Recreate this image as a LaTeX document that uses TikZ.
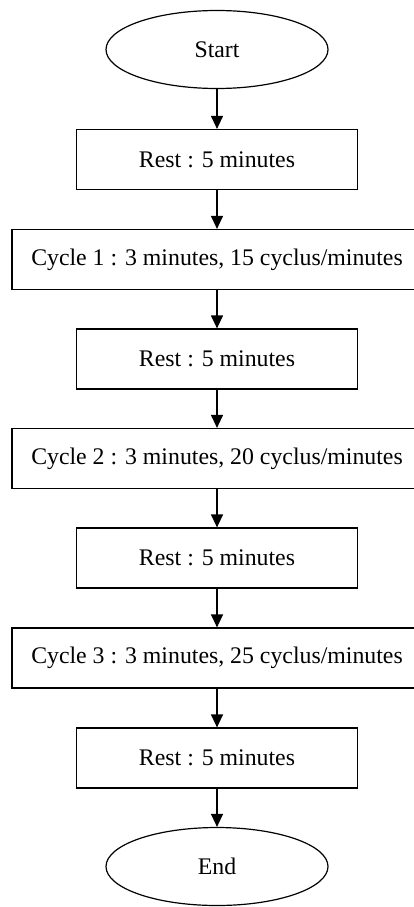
\documentclass[tikz,border=0pt]{standalone}
\usepackage{fontspec}
\setmainfont{Liberation Serif}
\usetikzlibrary{shapes.geometric,arrows.meta}
\begin{document}
\begin{tikzpicture}[x=1pt,y=1pt,
  txt/.style={font=\fontsize{23.8}{28}\selectfont},
  flowbox/.style={txt,draw=black,line width=1.2pt,rectangle,minimum width=281pt,minimum height=60pt,inner sep=0pt},
  cyclebox/.style={flowbox,minimum width=410pt},
  term/.style={txt,draw=black,line width=1.2pt,ellipse,minimum width=222pt,minimum height=78pt,inner sep=0pt},
  flow/.style={-{Triangle[width=12pt,length=13pt]},line width=1.2pt}]
\useasboundingbox (0,0) rectangle (414,-907);
\clip (0,0) rectangle (414,-907);
\node[term] (start) at (217,-49.5) {Start};
\node[flowbox] (r1) at (217,-159.5) {Rest : 5 minutes};
\node[cyclebox] (c1) at (217,-259.5) {Cycle 1 : 3 minutes, 15 cyclus/minutes};
\node[flowbox] (r2) at (217,-359) {Rest : 5 minutes};
\node[cyclebox] (c2) at (217,-458.5) {Cycle 2 : 3 minutes, 20 cyclus/minutes};
\node[flowbox] (r3) at (217,-558) {Rest : 5 minutes};
\node[cyclebox] (c3) at (217,-658) {Cycle 3 : 3 minutes, 25 cyclus/minutes};
\node[flowbox] (r4) at (217,-758) {Rest : 5 minutes};
\node[term] (end) at (217,-866.5) {End};
\draw[flow] (start.south) -- (r1.north);
\draw[flow] (r1.south) -- (c1.north);
\draw[flow] (c1.south) -- (r2.north);
\draw[flow] (r2.south) -- (c2.north);
\draw[flow] (c2.south) -- (r3.north);
\draw[flow] (r3.south) -- (c3.north);
\draw[flow] (c3.south) -- (r4.north);
\draw[flow] (r4.south) -- (end.north);
\end{tikzpicture}
\end{document}
